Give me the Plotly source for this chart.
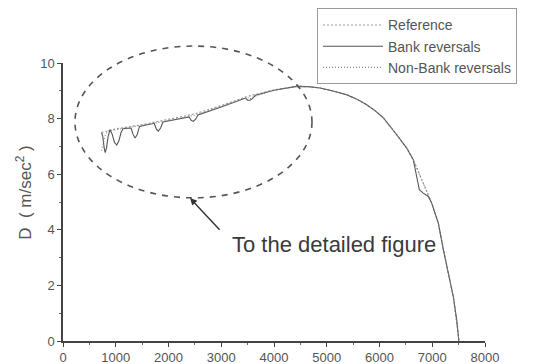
import plotly.graph_objects as go

# ---- data ----
ref_x = [730, 1000, 1500, 2000, 2500, 3000, 3500, 4000, 4430, 4650, 4872, 5100, 5378,
         5570, 5757, 5920, 6072, 6326, 6516, 6640, 6830, 6925, 6990, 7115, 7210, 7304,
         7399, 7464, 7494, 7505]
ref_y = [7.5, 7.63, 7.78, 7.97, 8.17, 8.47, 8.8, 9.03, 9.16, 9.15, 9.1, 9.0, 8.86,
         8.7, 8.5, 8.28, 8.03, 7.42, 6.94, 6.52, 5.68, 5.2, 4.96, 4.24, 3.28, 2.44,
         1.6, 0.76, 0.22, 0.0]

bank_x = [730, 755, 780, 800, 825, 855, 890, 930, 975, 1018, 1060, 1100, 1140, 1290,
          1325, 1365, 1405, 1450, 1730, 1770, 1807, 1850, 1895, 2390, 2430, 2470, 2515,
          2560, 3000, 3460, 3500, 3545, 3590, 3650, 4000, 4430, 4650, 4872, 5100, 5378,
          5570, 5757, 5920, 6072, 6326, 6516, 6640, 6720, 6755, 6830, 6925, 6990, 7115,
          7210, 7304, 7399, 7464, 7494, 7505]
bank_y = [7.5, 7.35, 6.95, 6.78, 6.95, 7.35, 7.6, 7.45, 7.15, 7.05, 7.2, 7.5, 7.64, 7.66,
          7.45, 7.3, 7.42, 7.72, 7.83, 7.62, 7.55, 7.66, 7.88, 8.06, 7.94, 7.9, 7.98,
          8.13, 8.42, 8.74, 8.66, 8.66, 8.72, 8.84, 9.02, 9.16, 9.15, 9.1, 9.0, 8.86,
          8.7, 8.5, 8.28, 8.03, 7.42, 6.94, 6.52, 5.85, 5.44, 5.32, 5.2, 4.96, 4.24,
          3.28, 2.44, 1.6, 0.76, 0.22, 0.0]

nonbank_x = [730, 760, 800, 850, 1000, 1500, 2000, 2500, 3000, 3500, 3545, 3600, 4000,
             4430, 4650, 4872, 5100, 5378, 5570, 5757, 5920, 6072, 6326, 6516, 6640,
             6830, 6925, 6990, 7115, 7210, 7304, 7399, 7464, 7494, 7505]
nonbank_y = [6.85, 7.1, 7.4, 7.55, 7.6, 7.75, 7.93, 8.12, 8.44, 8.76, 8.7, 8.78, 9.02,
             9.16, 9.15, 9.1, 9.0, 8.86, 8.7, 8.5, 8.28, 8.03, 7.42, 6.94, 6.52,
             5.68, 5.2, 4.96, 4.24, 3.28, 2.44, 1.6, 0.76, 0.22, 0.0]

series_names = ["Reference", "Bank reversals", "Non-Bank reversals"]
x_ticks = [0, 1000, 2000, 3000, 4000, 5000, 6000, 7000, 8000]
y_ticks = [0, 2, 4, 6, 8, 10]

FONT = "Liberation Sans, Arial, sans-serif"

fig = go.Figure()
fig.add_trace(go.Scatter(x=ref_x, y=ref_y, mode="lines", name=series_names[0],
                         line=dict(color="#9a9a9a", width=1.2, dash="2px,2px")))
fig.add_trace(go.Scatter(x=bank_x, y=bank_y, mode="lines", name=series_names[1],
                         line=dict(color="#555555", width=1.1)))
fig.add_trace(go.Scatter(x=nonbank_x, y=nonbank_y, mode="lines", name=series_names[2],
                         line=dict(color="#8a8a8a", width=1.1, dash="1px,2px")))

# dashed ellipse
fig.add_shape(type="circle", xref="paper", yref="paper",
              x0=0.0284, x1=0.590, y0=0.515, y1=1.061,
              line=dict(color="#555555", width=1.6, dash="6px,6px"))

# arrow + text
fig.add_annotation(x=2408, y=5.14, ax=3026, ay=3.89, xref="x", yref="y",
                   axref="x", ayref="y", text=" ", showarrow=True,
                   arrowhead=2, arrowsize=1, arrowwidth=1.4, arrowcolor="#333333")
fig.add_annotation(x=(334 - 63) / 422, y=(341 - 245) / 277.5, xref="paper", yref="paper",
                   xanchor="center", yanchor="middle",
                   text="To the detailed figure", showarrow=False,
                   font=dict(family=FONT, size=22, color="#3a3a3a"))

# y-axis title
fig.add_annotation(x=(24 - 63) / 422, y=(341 - 193) / 277.5, xref="paper", yref="paper",
                   xanchor="center", yanchor="middle",
                   text="D  ( m/sec<sup>2</sup> )", textangle=-90, showarrow=False,
                   font=dict(family=FONT, size=17, color="#555555"))

fig.update_layout(
    width=533, height=364,
    margin=dict(l=63, r=48, t=63, b=23, autoexpand=False),
    paper_bgcolor="white", plot_bgcolor="white",
    font=dict(family=FONT, color="#444444"),
    showlegend=True,
    legend=dict(x=(317 - 63) / 422, y=(341 - 9) / 277.5, xanchor="left", yanchor="top",
                bgcolor="white", bordercolor="#9a9a9a", borderwidth=1,
                font=dict(family=FONT, size=14, color="#555555"),
                itemwidth=60, tracegroupgap=0),
)
fig.update_xaxes(range=[0, 8000], tickvals=x_ticks, ticktext=[str(v) for v in x_ticks],
                 automargin=False,
                 showgrid=False, zeroline=False, showline=True, linecolor="#444444",
                 linewidth=1.5, ticks="outside", ticklen=4, tickcolor="#444444",
                 tickfont=dict(family=FONT, size=13, color="#555555"),
                 minor=dict(dtick=500, ticks="outside", ticklen=2, tickcolor="#666666"))
fig.update_yaxes(range=[0, 10], tickvals=y_ticks, ticktext=[str(v) for v in y_ticks],
                 automargin=False,
                 showgrid=False, zeroline=False, showline=True, linecolor="#444444",
                 linewidth=1.5, ticks="outside", ticklen=4, tickcolor="#444444",
                 tickfont=dict(family=FONT, size=13, color="#555555"),
                 minor=dict(dtick=1, ticks="outside", ticklen=2, tickcolor="#666666"))

fig.write_html("out.html")
